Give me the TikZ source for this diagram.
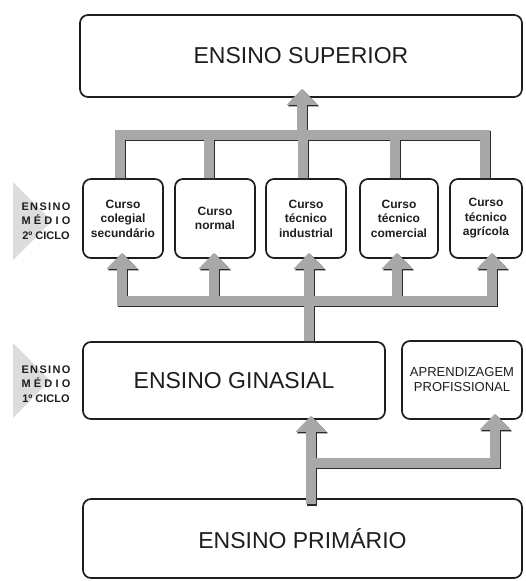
\documentclass[tikz,border=0pt]{standalone}
\usepackage{fontspec}
\setmainfont{Liberation Sans}
\usetikzlibrary{arrows.meta,calc}
\definecolor{flowgray}{HTML}{A8A8A8}
\definecolor{flowdark}{HTML}{2B2B2B}
\definecolor{ink}{HTML}{1E1E1E}
\definecolor{trigray}{HTML}{DCDCDC}
\tikzset{
  box/.style={draw=ink, line width=1.7pt, rounded corners=8pt, fill=white, inner sep=0pt, text=ink, align=center},
  bigbox/.style={box, font=\fontsize{23}{27}\selectfont},
  course/.style={box, minimum width=80pt, minimum height=79pt, font=\bfseries\fontsize{12}{14.5}\selectfont},
  sidelabel/.style={font=\bfseries\fontsize{11}{14.5}\selectfont, text=ink, align=center, inner sep=0pt},
  flow/.style={line width=10pt, line join=miter},
  flowtip/.style={-{Triangle[width=31pt,length=16pt,line width=0pt]}},
  flowboth/.style={{Triangle[width=31pt,length=16pt,line width=0pt]}-{Triangle[width=31pt,length=16pt,line width=0pt]}}
}
\newcommand\flowpaths{%
  \draw (u1) |- (tb) -| (u5);
  \draw (u2) -- (u2 |- tb);
  \draw (u3) -- (u3 |- tb);
  \draw (u4) -- (u4 |- tb);
  \draw[flowtip] (tb) -- (ts);
  \draw[flowboth] (d1) |- (lb) -| (d5);
  \draw[flowtip] (d2 |- lb) -- (d2);
  \draw[flowtip] (d4 |- lb) -- (d4);
  \draw[flowtip] (g0) -- (d3);
  \draw[flowtip] (p0) -- (gt);
  \draw[flowtip] (bb) -| (at);
}
\begin{document}
\begin{tikzpicture}[x=1pt,y=-1pt]
\useasboundingbox (0,0) rectangle (526,581);
\fill[white] (0,0) rectangle (526,581);

% side markers
\fill[trigray] (13,182) -- (13,260) -- (52,221) -- cycle;
\fill[trigray] (13,343) -- (13,418) -- (50,380.5) -- cycle;
\node[sidelabel] (lab2) at (46,221) {\makebox[49pt][s]{E\hfill N\hfill S\hfill I\hfill N\hfill O}\\\makebox[49pt][s]{M\hfill É\hfill D\hfill I\hfill O}\\2º CICLO};
\node[sidelabel] (lab1) at (46,384) {\makebox[49pt][s]{E\hfill N\hfill S\hfill I\hfill N\hfill O}\\\makebox[49pt][s]{M\hfill É\hfill D\hfill I\hfill O}\\1º CICLO};

% boxes
\node[bigbox, minimum width=442pt, minimum height=82pt] (sup) at (301,56) {ENSINO SUPERIOR};
\node[course] (c1) at (123,218.5) {Curso\\colegial\\secundário};
\node[course] (c2) at (215,218.5) {Curso\\normal};
\node[course] (c3) at (306,218.5) {Curso\\técnico\\industrial};
\node[course, minimum width=78pt] (c4) at (399,218.5) {Curso\\técnico\\comercial};
\node[course, minimum width=72pt] (c5) at (486,218.5) {Curso\\técnico\\agrícola};
\node[bigbox, minimum width=302pt, minimum height=77pt] (gin) at (234,380.5) {ENSINO GINASIAL};
\node[box, minimum width=120pt, minimum height=78pt, font=\fontsize{13}{15}\selectfont] (apr) at (462,380) {APRENDIZAGEM\\PROFISSIONAL};
\node[bigbox, minimum width=439pt, minimum height=79pt] (pri) at (302.5,538.5) {ENSINO PRIMÁRIO};

% flow coordinates
\coordinate (tb) at (302,135);
\coordinate (u1) at ($(c1.north)+(-3,0)$);
\coordinate (u2) at ($(c2.north)+(-6,0)$);
\coordinate (u3) at ($(c3.north)+(-3,0)$);
\coordinate (u4) at ($(c4.north)+(-4,0)$);
\coordinate (u5) at ($(c5.north)+(-1,0)$);
\coordinate (ts) at ($(tb |- sup.south)+(0,-9)$);
\coordinate (lb) at (309,301);
\coordinate (d1) at ($(c1.south)+(-1,-6)$);
\coordinate (d2) at ($(c2.south)+(-1,-6)$);
\coordinate (d3) at ($(lb |- c3.south)+(0,-6)$);
\coordinate (d4) at ($(c4.south)+(-2,-6)$);
\coordinate (d5) at ($(c5.south)+(6,-6)$);
\coordinate (g0) at (lb |- gin.north);
\coordinate (bb) at (311,463);
\coordinate (p0) at ($(bb |- pri.north)+(0,6)$);
\coordinate (gt) at ($(bb |- gin.south)+(0,-4)$);
\coordinate (at) at ($(apr.south)+(33,-6)$);

% shadows then flows
\begin{scope}[flow, color=flowdark, transform canvas={shift={(1.4pt,-1.4pt)}}]
  \flowpaths
\end{scope}
\begin{scope}[flow, color=flowgray]
  \flowpaths
\end{scope}
\end{tikzpicture}
\end{document}
